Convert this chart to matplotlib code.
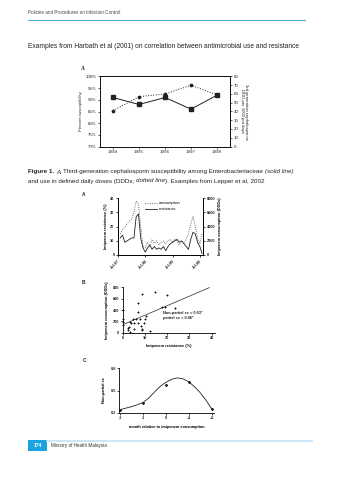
import numpy as np
import matplotlib
matplotlib.use("Agg")
import matplotlib.pyplot as plt
from matplotlib.patches import Rectangle
from matplotlib.lines import Line2D

W, H = 337, 480
plt.rcParams['font.family'] = ['Liberation Sans', 'DejaVu Sans']
TXT = '#222222'

# Harbath et al: susceptibility vs use
years = [1994, 1995, 1996, 1997, 1998]
susceptibility = [91, 88, 91, 86, 92]      # percent, solid line
ddd_use = [41, 57, 60, 70, 59]             # DDD per 1000 pat days, dotted line

# Lepper et al A: monthly resistance and consumption
months = list(range(1, 38))
resistance = [12, 14, 9, 10, 11, 12, 12, 27, 29, 12, 5, 2, 5, 7, 4, 6, 4, 5, 4,
              6, 3, 6, 8, 9, 10, 11, 9, 10, 8, 6, 4, 11, 16, 15, 9, 6, 1]
consumption = [3000, 3600, 4000, 4400, 4800, 5000, 6000, 7600, 7200, 4000, 1200,
               1000, 1800, 1200, 2200, 1600, 2000, 1400, 1800, 2000, 1600, 2000,
               2200, 1800, 2200, 2000, 1400, 2000, 1600, 2200, 3000, 4400, 5400,
               4000, 2400, 1600, 3000]
month_ticks = [0, 12, 24, 36]
month_labels = ['Jul-97', 'Jul-98', 'Jul-99', 'Jul-00']

# Lepper et al B: scatter resistance vs consumption
scatter_res = [0, 0, 0, 0, 2.4, 2.4, 2.7, 3.1, 3.1, 3.9, 4.6, 5, 5.3, 6, 6.7, 7,
               7.1, 7.9, 8.1, 8.6, 8.6, 8.9, 9.6, 10, 10.7, 12.1, 14.5, 20, 17.5,
               19, 23.5]
scatter_cons = [400, 235, 195, 135, 75, 47, 105, 195, 18, 165, 235, 60, 175, 250,
                370, 530, 165, 235, 120, 680, 60, 47, 175, 235, 295, 35, 720, 665,
                458, 460, 430]
fit_intercept, fit_slope = 140, 16.8

# Lepper et al C: cross correlation by lag
lag = [-2, -1, 0, 1, 2]
lag_cc = [0.245, 0.34, 0.58, 0.61, 0.255]
curve_lag = [-2, -1.75, -1.5, -1.25, -1, -0.75, -0.5, -0.25, 0, 0.25, 0.5, 0.75,
             1, 1.25, 1.5, 1.75, 2]
curve_cc = [0.245, 0.265, 0.285, 0.31, 0.34, 0.40, 0.48, 0.555, 0.61, 0.65, 0.668,
            0.655, 0.615, 0.55, 0.47, 0.37, 0.255]


def rect(l, t, r, b):
    return [l / W, 1 - b / H, (r - l) / W, (b - t) / H]


def fx(x):
    return x / W


def fy(y):
    return 1 - y / H


def rich_line(fig, x, y, parts, size):
    r = fig.canvas.get_renderer()
    x = fx(x)
    for text, style in parts:
        t = fig.text(x, fy(y), text, fontsize=size, color=TXT, va='center', **style)
        x += t.get_window_extent(r).width / fig.bbox.width


def style_axis(ax, lw=0.5, size=3, bold=False):
    for s in ax.spines.values():
        s.set_linewidth(lw)
    ax.tick_params(direction='out', length=1.5, width=lw, pad=1, labelsize=size,
                   colors=TXT)
    if bold:
        for lab in ax.get_xticklabels() + ax.get_yticklabels():
            lab.set_fontweight('bold')


fig = plt.figure(figsize=(W / 100, H / 100), dpi=100)

# page header
fig.text(fx(28), fy(13), 'Policies and Procedures on Infection Control', fontsize=3.3,
         color='#444444', va='center')
fig.add_artist(Line2D([fx(28), fx(305)], [fy(20), fy(20)], color='#4fb0de', lw=0.8))
fig.text(fx(28), fy(46), 'Examples from Harbath et al (2001) on correlation between '
         'antimicrobial use and resistance', fontsize=4.75, color=TXT, va='center')

# Harbath chart
fig.text(fx(81), fy(69), 'A', fontsize=4, fontweight='bold', family='Liberation Serif',
         color=TXT, va='center')
ax1 = fig.add_axes(rect(100, 76.5, 230, 146.5))
ax1.plot(years, susceptibility, '-', color='#222222', lw=0.7, marker='s', ms=2.8)
ax1.set_xlim(1993.5, 1998.5)
ax1.set_ylim(70, 100)
ax1.set_xticks(years)
ax1.set_yticks(range(70, 101, 5))
ax1.set_yticklabels([f'{v}%' for v in range(70, 101, 5)])
ax1.set_ylabel('Percent susceptibility', fontsize=3.1, labelpad=2, color=TXT)
ax1b = ax1.twinx()
ax1b.plot(years, ddd_use, ':', color='#222222', lw=0.7, marker='o', ms=1.7)
ax1b.set_ylim(0, 80)
ax1b.set_yticks(range(0, 81, 10))
ax1b.set_ylabel('3rd generation cephalosporins\nDDD per 1000 pat days', fontsize=3.1,
                rotation=270, labelpad=7, color=TXT, linespacing=1.1)
style_axis(ax1, size=3.2)
style_axis(ax1b, size=3.2)

# caption
rich_line(fig, 28, 172, [('Figure 1. ', {'fontweight': 'bold'}),
                         ('A. ', {'style': 'italic'}),
                         ('Third-generation cephalosporin susceptibility among '
                          'Enterobacteriaceae ', {}),
                         ('(solid line)', {'style': 'italic'})], 4.5)
rich_line(fig, 28, 181, [('and use in defined daily doses (DDDs; ', {}),
                         ('dotted line', {'style': 'italic'}),
                         ('). Examples from Lepper et al, 2002', {})], 4.5)

# Lepper A: time series
fig.text(fx(82), fy(195), 'A', fontsize=3.5, fontweight='bold', color=TXT, va='center')
ax2 = fig.add_axes(rect(118, 198.3, 203, 255))
ax2.plot(months, resistance, '-', color='#222222', lw=0.6, label='resistance')
ax2.set_xlim(0, 37.4)
ax2.set_ylim(0, 40)
ax2.set_yticks(range(0, 41, 10))
ax2.set_xticks(month_ticks)
ax2.set_xticklabels(month_labels, rotation=45, ha='right', rotation_mode='anchor')
ax2.set_ylabel('Imipenem resistance (%)', fontsize=2.8, fontweight='bold', labelpad=2)
ax2b = ax2.twinx()
ax2b.plot(months, consumption, ':', color='#444444', lw=0.6, label='consumption')
ax2b.set_ylim(0, 8000)
ax2b.set_yticks(range(0, 8001, 2000))
ax2b.set_ylabel('Imipenem consumption (DDDs)', fontsize=2.8, fontweight='bold',
                rotation=90, labelpad=2)
ax2.spines['top'].set_visible(False)
ax2b.spines['top'].set_visible(False)
style_axis(ax2, lw=0.6, size=2.8, bold=True)
style_axis(ax2b, lw=0.6, size=2.8, bold=True)
handles = [Line2D([], [], ls=':', color='#444444', lw=0.6),
           Line2D([], [], ls='-', color='#222222', lw=0.6)]
ax2.legend(handles, ['consumption', 'resistance'], loc='upper left',
           bbox_to_anchor=(fx(143), fy(199)), bbox_transform=fig.transFigure,
           frameon=False, fontsize=2.8, handlelength=3, handletextpad=0.6,
           labelspacing=0.6, borderpad=0)

# Lepper B: scatter
fig.text(fx(82), fy(283), 'B', fontsize=3.5, fontweight='bold', color=TXT, va='center')
ax3 = fig.add_axes(rect(122.7, 287.3, 215, 332.7))
ax3.scatter(scatter_res, scatter_cons, marker='+', s=4, linewidths=0.7, color='#111111',
            clip_on=False, zorder=3)
fit_x = np.array([0, 39])
ax3.plot(fit_x, fit_intercept + fit_slope * fit_x, '-', color='#222222', lw=0.5)
ax3.set_xlim(0, 41.5)
ax3.set_ylim(0, 800)
ax3.set_xticks(range(0, 41, 10))
ax3.set_yticks(range(0, 801, 200))
ax3.spines['top'].set_visible(False)
ax3.spines['right'].set_visible(False)
ax3.set_xlabel('Imipenem resistance (%)', fontsize=2.8, fontweight='bold', labelpad=3)
ax3.set_ylabel('Imipenem consumption (DDDs)', fontsize=2.8, fontweight='bold',
               labelpad=3)
ax3.text(18.2, 345, 'Non-partial cc = 0.63*', fontsize=2.8, fontweight='bold',
         color=TXT, va='center')
ax3.text(18.2, 262, 'partial cc = 0.86*', fontsize=2.8, fontweight='bold',
         color=TXT, va='center')
style_axis(ax3, lw=0.6, size=2.8, bold=True)

# Lepper C: cross correlation
fig.text(fx(83), fy(360), 'C', fontsize=3.5, fontweight='bold', color=TXT, va='center')
ax4 = fig.add_axes(rect(119.5, 368, 214, 413))
ax4.plot(curve_lag, curve_cc, '-', color='#222222', lw=0.6)
ax4.plot(lag, lag_cc, ls='none', marker='*', ms=1.4, color='#222222', clip_on=False)
ax4.set_xlim(-2.03, 2.1)
ax4.set_ylim(0.2, 0.8)
ax4.set_xticks(lag)
ax4.set_xticklabels(['-2', '-1', '0', '+1', '+2'])
ax4.set_yticks([0.2, 0.5, 0.8])
ax4.spines['top'].set_visible(False)
ax4.spines['right'].set_visible(False)
ax4.set_xlabel('month relative to imipenem consumption', fontsize=2.8,
               fontweight='bold', labelpad=3)
ax4.set_ylabel('Non-partial cc', fontsize=2.8, fontweight='bold', labelpad=3)
style_axis(ax4, lw=0.6, size=2.8, bold=True)

# page footer
fig.add_artist(Line2D([fx(47), fx(312)], [fy(440.5), fy(440.5)], color='#bfe3f2', lw=1.2))
fig.add_artist(Rectangle((fx(28), fy(451)), fx(47) - fx(28), fy(440) - fy(451),
                         transform=fig.transFigure, facecolor='#1ba3e0',
                         edgecolor='none'))
fig.text(fx(37.5), fy(445.5), '174', fontsize=3.5, color='white', ha='center',
         va='center', fontweight='bold')
fig.text(fx(51), fy(445.5), 'Ministry of Health Malaysia', fontsize=3.3, color='#333333',
         va='center')

fig.savefig('out.png', dpi=100)
